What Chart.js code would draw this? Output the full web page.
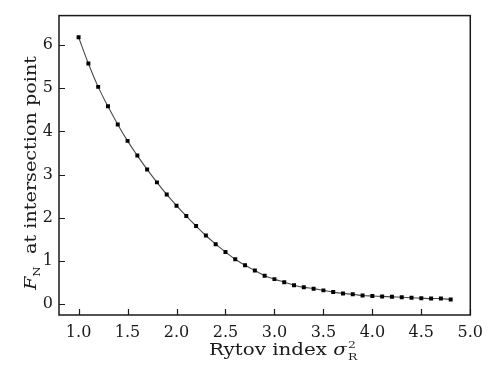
<!DOCTYPE html>
<html>
<head>
<meta charset="utf-8">
<script src="https://cdn.jsdelivr.net/npm/chart.js@4.4.1/dist/chart.umd.min.js"></script>
<style>
  html, body { margin: 0; padding: 0; background: #fff; }
  #wrap { width: 491px; height: 368px; }
</style>
</head>
<body>
<div id="wrap"><canvas id="chart" width="491" height="368"></canvas></div>
<script>
// Rytov index (sigma_R^2) and F_N at intersection point
const rytov = [1.0, 1.1, 1.2, 1.3, 1.4, 1.5, 1.6, 1.7, 1.8, 1.9,
               2.0, 2.1, 2.2, 2.3, 2.4, 2.5, 2.6, 2.7, 2.8, 2.9,
               3.0, 3.1, 3.2, 3.3, 3.4, 3.5, 3.6, 3.7, 3.8, 3.9,
               4.0, 4.1, 4.2, 4.3, 4.4, 4.5, 4.6, 4.7, 4.8];
const fnValues = [6.18, 5.57, 5.03, 4.58, 4.16, 3.78, 3.44, 3.12, 2.82, 2.54,
                  2.28, 2.04, 1.81, 1.59, 1.39, 1.21, 1.04, 0.90, 0.78, 0.66,
                  0.58, 0.51, 0.44, 0.39, 0.36, 0.32, 0.28, 0.25, 0.23, 0.20,
                  0.19, 0.18, 0.17, 0.16, 0.15, 0.14, 0.13, 0.13, 0.11];
const xTicks = [1.0, 1.5, 2.0, 2.5, 3.0, 3.5, 4.0, 4.5, 5.0];
const yTicks = [0, 1, 2, 3, 4, 5, 6];

const FONT = '"DejaVu Serif", "Liberation Serif", serif';
const INK = '#1a1a1a';
const WIDEN = 1.24; // the original face is wider than DejaVu Serif

// frame, inward tick marks and the axis titles (with sub/superscripts)
const decorations = {
  id: 'decorations',
  afterDraw(chart) {
    const { ctx, chartArea: a, scales } = chart;
    ctx.save();
    ctx.strokeStyle = INK;
    ctx.lineWidth = 1.5;
    ctx.strokeRect(a.left, a.top, a.right - a.left, a.bottom - a.top);

    ctx.lineWidth = 1.2;
    ctx.beginPath();
    xTicks.forEach(v => {
      const px = Math.round(scales.x.getPixelForValue(v)) + 0.5;
      ctx.moveTo(px, a.bottom);
      ctx.lineTo(px, a.bottom - 6);
    });
    yTicks.forEach(v => {
      const py = Math.round(scales.y.getPixelForValue(v)) + 0.5;
      ctx.moveTo(a.left, py);
      ctx.lineTo(a.left + 6, py);
    });
    ctx.stroke();

    ctx.fillStyle = INK;
    ctx.textBaseline = 'alphabetic';
    ctx.textAlign = 'left';

    // x title: Rytov index σ²_R
    ctx.save();
    ctx.translate(209, 355);
    ctx.scale(WIDEN, 1);
    let x = 0;
    ctx.font = `16px ${FONT}`;
    ctx.fillText('Rytov index ', x, 0);
    x += ctx.measureText('Rytov index ').width;
    ctx.font = `italic 16px ${FONT}`;
    ctx.fillText('σ', x, 0);
    x += ctx.measureText('σ').width + 1;
    ctx.font = `10px ${FONT}`;
    ctx.fillText('2', x, -7);
    ctx.fillText('R', x, 5);
    ctx.restore();

    // y title: F_N at intersection point (rotated)
    ctx.save();
    ctx.translate(36, 290);
    ctx.rotate(-Math.PI / 2);
    ctx.scale(WIDEN - 0.04, 1);
    let t = 0;
    ctx.font = `italic 16px ${FONT}`;
    ctx.fillText('F', t, 0);
    t += ctx.measureText('F').width;
    ctx.font = `10px ${FONT}`;
    ctx.fillText('N', t, 4);
    t += ctx.measureText('N').width;
    ctx.font = `16px ${FONT}`;
    ctx.fillText('  at intersection point', t, 0);
    ctx.restore();

    ctx.restore();
  }
};

new Chart(document.getElementById('chart'), {
  type: 'line',
  data: {
    datasets: [{
      data: rytov.map((r, i) => ({ x: r, y: fnValues[i] })),
      borderColor: '#4a4a4a',
      borderWidth: 1.1,
      tension: 0.4,
      pointStyle: 'rect',
      pointRadius: 2.8,
      pointBackgroundColor: '#000',
      pointBorderWidth: 0,
      fill: false
    }]
  },
  options: {
    responsive: false,
    animation: false,
    layout: { padding: { top: 7, right: 19, left: 0, bottom: 0 } },
    plugins: {
      legend: { display: false },
      tooltip: { enabled: false }
    },
    scales: {
      x: {
        type: 'linear',
        min: 0.8,
        max: 5.0,
        afterBuildTicks: s => { s.ticks = xTicks.map(v => ({ value: v })); },
        afterFit: s => { s.height = 53; },
        grid: { display: false, drawTicks: false },
        border: { display: false },
        ticks: {
          color: INK,
          padding: 8,
          font: { family: FONT, size: 16 },
          callback: v => v.toFixed(1)
        }
      },
      y: {
        min: -0.25,
        max: 6.68,
        afterBuildTicks: s => { s.ticks = yTicks.map(v => ({ value: v })); },
        afterFit: s => { s.width = 59; },
        grid: { display: false, drawTicks: false },
        border: { display: false },
        ticks: {
          color: INK,
          padding: 6,
          font: { family: FONT, size: 16 },
          callback: v => String(v)
        }
      }
    }
  },
  plugins: [decorations]
});
</script>
</body>
</html>
